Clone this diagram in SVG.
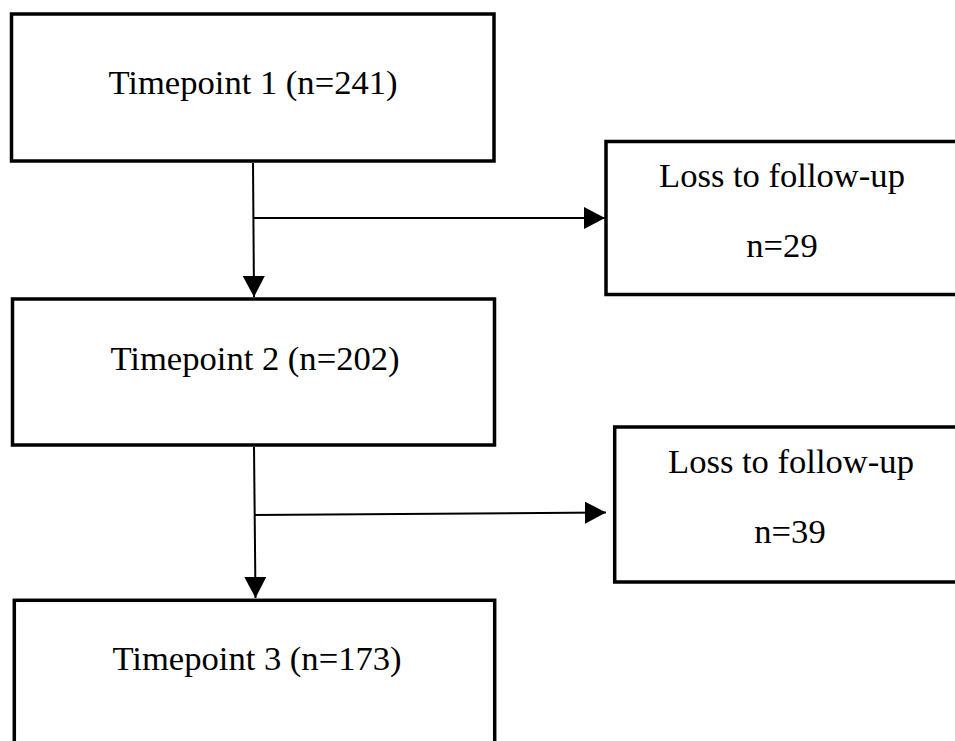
<svg xmlns="http://www.w3.org/2000/svg" width="955" height="741" viewBox="0 0 955 741">
<style>
.box{fill:#fff;stroke:#000;stroke-width:3.5}
.t{font-family:"Liberation Serif","Times New Roman",serif;font-size:34.6px;fill:#000;text-anchor:middle}
.c{stroke:#000;stroke-width:2;fill:none}
</style>
<defs>
<marker id="ah" markerWidth="21" markerHeight="22" refX="21" refY="11" orient="auto" markerUnits="userSpaceOnUse" viewBox="0 0 21 22">
<path d="M0,0 L21,11 L0,22 Z" fill="#000"/>
</marker>
</defs>
<rect width="955" height="741" fill="#fff"/>
<g id="tp1">
<rect class="box" x="11.5" y="14" width="482.5" height="147"/>
<text class="t" x="253" y="94">Timepoint 1 (n=241)</text>
</g>
<g id="loss1">
<rect class="box" x="606" y="141.5" width="360" height="153"/>
<text class="t" x="782" y="187">Loss to follow-up</text>
<text class="t" x="782" y="257">n=29</text>
</g>
<g id="tp2">
<rect class="box" x="12.5" y="299" width="482" height="146"/>
<text class="t" x="255" y="370">Timepoint 2 (n=202)</text>
</g>
<g id="loss2">
<rect class="box" x="614.7" y="427" width="360" height="155"/>
<text class="t" x="791" y="473">Loss to follow-up</text>
<text class="t" x="790" y="543">n=39</text>
</g>
<g id="tp3">
<rect class="box" x="14.3" y="600.3" width="480.4" height="160"/>
<text class="t" x="257" y="670">Timepoint 3 (n=173)</text>
</g>
<g id="connectors">
<line class="c" x1="253" y1="163" x2="254" y2="297" marker-end="url(#ah)"/>
<line class="c" x1="253" y1="218" x2="605" y2="218" marker-end="url(#ah)"/>
<line class="c" x1="254" y1="447" x2="255.5" y2="598" marker-end="url(#ah)"/>
<line class="c" x1="254" y1="515" x2="606" y2="512.5" marker-end="url(#ah)"/>
</g>
</svg>
